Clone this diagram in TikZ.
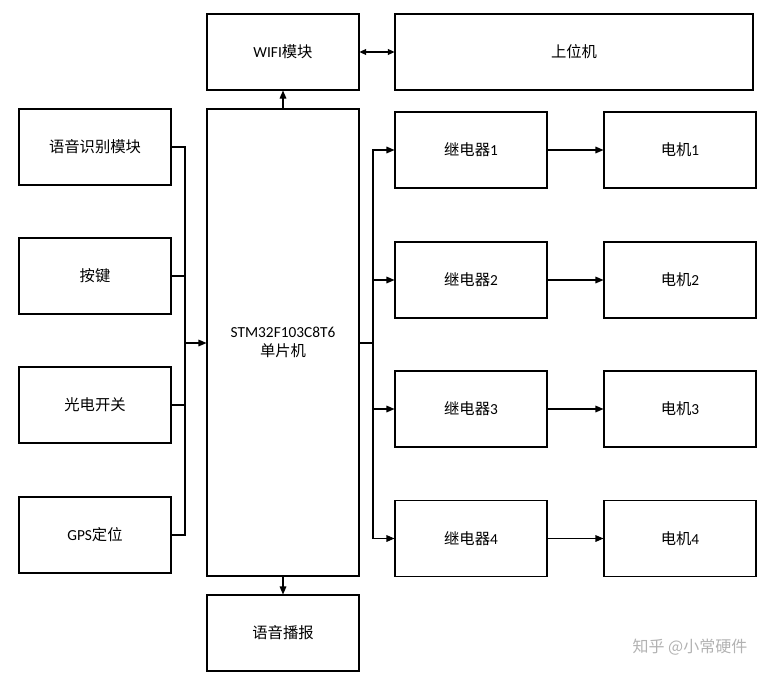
\documentclass[tikz,border=0pt]{standalone}
\usepackage{fontspec}
\setmainfont{Carlito}
\newfontfamily\cjk{Noto Sans CJK SC}
\usetikzlibrary{arrows.meta}
\tikzset{block/.style={draw=black,line width=0.8pt,minimum width=114pt,minimum height=57pt,inner sep=0pt,font=\fontsize{11.5}{14}\selectfont},block/.default=black}
\tikzset{flow/.style={line width=0.8pt,-{Triangle[length=6pt,width=5pt]}}}

\begin{document}
\begin{tikzpicture}[x=0.75pt,y=-0.75pt,
                    wire/.style={line width=0.8pt},
                    both/.style={line width=0.8pt,{Triangle[length=5pt,width=4.5pt]}-{Triangle[length=5pt,width=4.5pt]}}]

		\useasboundingbox (0,0) rectangle (766,678);

		% O microcontrolador e os blocos de cima e de baixo
		\node [block] (wifi) at (283,52) {WIFI{\cjk 模块}};
		\node [block,minimum width=268.5pt] (host) at (574,52) {\cjk 上位机};
		\node [block,minimum height=350.25pt,align=center] (mcu) at (283,342.5) {STM32F103C8T6\\{\cjk 单片机}};
		\node [block] (speaker) at (283,633) {\cjk 语音播报};

		% Entradas
		\node [block] (voice) at (95,147) {\cjk 语音识别模块};
		\node [block] (key)   at (95,276) {\cjk 按键};
		\node [block] (photo) at (95,405) {\cjk 光电开关};
		\node [block] (gps)   at (95,535) {GPS{\cjk 定位}};

		% Relés e motores
		\foreach \i/\y in {1/150,2/280,3/409,4/538.5} {
			\node [block] (relay\i) at (471,\y) {{\cjk 继电器}\i};
			\node [block] (motor\i) at (680,\y) {{\cjk 电机}\i};
		}

		\coordinate (lbus) at (185,343);
		\coordinate (rbus) at (373,343);

		% Barramento da esquerda
		\foreach \n in {voice,key,photo,gps}
			\draw [wire] (\n.east) -| (lbus);
		\draw [flow] (lbus) -- (mcu.west |- lbus);

		% Barramento da direita
		\draw [wire] (mcu.east |- rbus) -- (rbus);
		\foreach \i in {1,...,4} {
			\draw [flow] (rbus) |- (relay\i.west);
			\draw [flow] (relay\i.east) -- (motor\i.west);
		}

		% WIFI, placa e voz
		\draw [flow] (mcu.north) -- (wifi.south);
		\draw [flow] (mcu.south) -- (speaker.north);
		\draw [both] (wifi.east) -- (host.west);

		% Marca
		\node [text=gray!60,font=\cjk\fontsize{12}{14}\selectfont] (mark) at (690,647) {知乎 @小常硬件};

	\end{tikzpicture}
\end{document}
